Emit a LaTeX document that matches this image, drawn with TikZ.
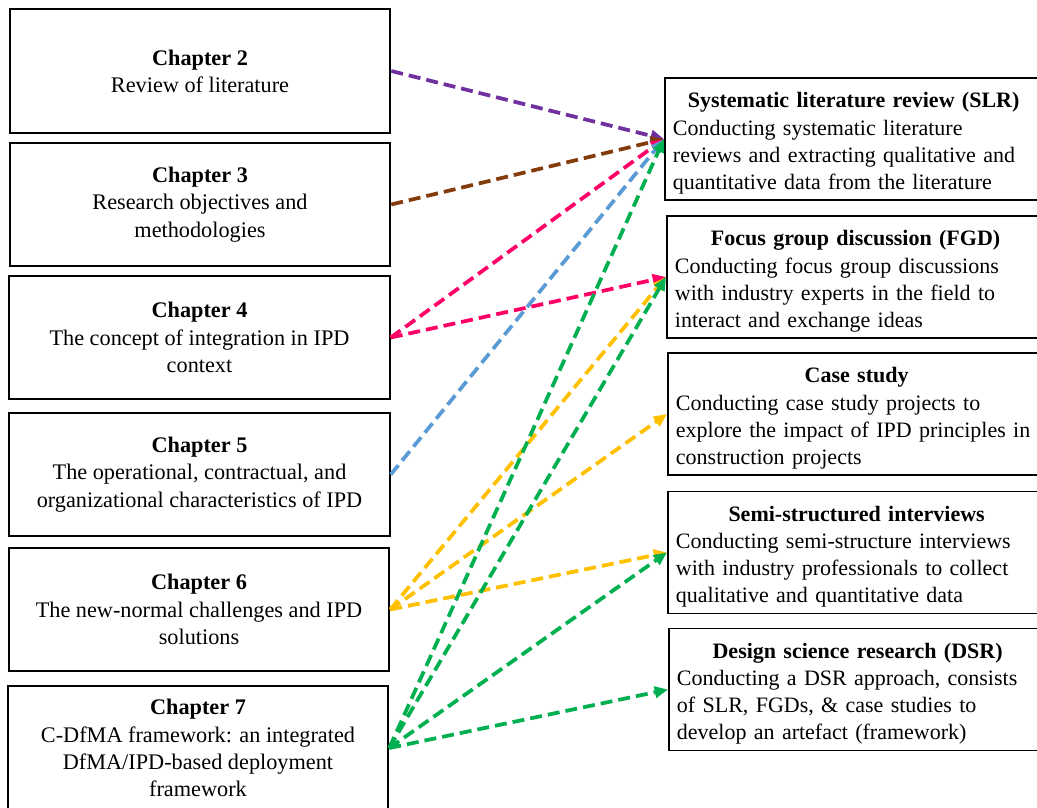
\documentclass[tikz,border=0pt]{standalone}
\usepackage{fontspec}
\setmainfont{Liberation Serif}
\usetikzlibrary{arrows.meta}
\definecolor{cpurple}{HTML}{7030A0}
\definecolor{cbrown}{HTML}{843C0C}
\definecolor{cpink}{HTML}{FF0066}
\definecolor{cblue}{HTML}{5B9BD5}
\definecolor{cyellow}{HTML}{FFC000}
\definecolor{cgreen}{HTML}{00B050}
\begin{document}
\begin{tikzpicture}[x=0.75pt,y=-0.75pt,
  txt/.style={font=\fontsize{16.7}{20.4}\selectfont},
  mtxt/.style={font=\fontsize{16.5}{20.4}\selectfont},
  chapbox/.style={txt, draw=black, line width=1.4pt, minimum width=285.5pt,
    minimum height=92.5pt, align=center, inner sep=0pt},
  methbox/.style={mtxt, draw=black, line width=1.4pt, anchor=west,
    text width=280pt, inner xsep=6pt, inner ysep=0pt, minimum height=91.5pt,
    align=left},
  link/.style={line width=2.8pt, dash pattern=on 9pt off 4.5pt,
    -{Triangle[length=10pt,width=8.5pt]}}
]
\clip (0,0) rectangle (1037,807);
\fill[white] (0,0) rectangle (1037,807);

% chapters
\node[chapbox] (ch2) at (200,71)    {\textbf{Chapter 2}\\Review of literature};
\node[chapbox] (ch3) at (200,204.5) {\textbf{Chapter 3}\\Research objectives and\\methodologies};
\node[chapbox] (ch4) at (199.5,337.5) {\textbf{Chapter 4}\\The concept of integration in IPD\\context};
\node[chapbox] (ch5) at (199.5,474.5) {\textbf{Chapter 5}\\The operational, contractual, and\\organizational characteristics of IPD};
\node[chapbox] (ch6) at (199,609.5) {\textbf{Chapter 6}\\The new-normal challenges and IPD\\solutions};
\node[chapbox] (ch7) at (198,748)   {\textbf{Chapter 7}\\C-DfMA framework: an integrated\\DfMA/IPD-based deployment\\framework};

% research methods: centred bold heading over a left-aligned description
\newcommand{\mtitle}[1]{\makebox[271pt][c]{\rule{0pt}{18pt}\textbf{#1}}}
\node[methbox] (slr) at (664,139) {\mtitle{Systematic literature review (SLR)}\\Conducting systematic literature\\reviews and extracting qualitative and\\quantitative data from the literature};
\node[methbox] (fgd) at (666,277) {\mtitle{Focus group discussion (FGD)}\\Conducting focus group discussions\\with industry experts in the field to\\interact and exchange ideas};
\node[methbox] (cs) at (667,414) {\mtitle{Case study}\\Conducting case study projects to\\explore the impact of IPD principles in\\construction projects};
\node[methbox] (ssi) at (667,552.5) {\mtitle{Semi-structured interviews}\\Conducting semi-structure interviews\\with industry professionals to collect\\qualitative and quantitative data};
\node[methbox] (dsr) at (668,689.5) {\mtitle{Design science research (DSR)}\\Conducting a DSR approach, consists\\of SLR, FGDs, \& case studies to\\develop an artefact (framework)};

% links between chapters and methods
\draw[link, cpurple] (ch2.east) -- (slr.west);
\draw[link, cbrown]  (ch3.east) -- (slr.west);
\draw[link, cpink]   (ch4.east) -- (slr.west);
\draw[link, cpink]   (ch4.east) -- (fgd.west);
\draw[link, cblue]   (ch5.east) -- (slr.west);
\draw[link, cyellow] (ch6.east) -- (fgd.west);
\draw[link, cyellow] (ch6.east) -- (cs.west);
\draw[link, cyellow] (ch6.east) -- (ssi.west);
\draw[link, cgreen]  (ch7.east) -- (slr.west);
\draw[link, cgreen]  (ch7.east) -- (fgd.west);
\draw[link, cgreen]  (ch7.east) -- (ssi.west);
\draw[link, cgreen]  (ch7.east) -- (dsr.west);
\end{tikzpicture}
\end{document}
